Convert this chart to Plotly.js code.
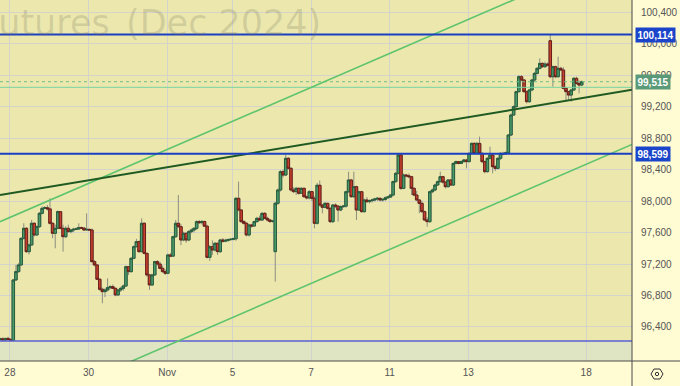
<!DOCTYPE html>
<html><head><meta charset="utf-8">
<script src="https://cdn.plot.ly/plotly-3.0.1.min.js"></script>
<style>html,body{margin:0;padding:0;background:#fffbd3;}#chart{width:680px;height:386px;}</style>
</head><body><div id="chart"></div>
<script>
// candle index of first bar (bars before the Oct 28 session)
const firstIndex = -5;
const openP = [96240,96250,96235,96255,96240,
96230,96997,97103,97188,97526,97653,97357,97442,97717,97569,97674,97844,97907,97915,97900,97717,97590,97653,97865,97653,
97547,97653,97611,97632,97641,97645,97662,97655,97632,97640,97632,97230,97188,97006,96879,96849,96870,96900,96912,96891,
96807,96870,96891,96921,97166,97103,97272,97420,97484,97357,97717,97335,97061,96934,97061,97230,97200,97145,97103,97082,
97315,97300,97547,97717,97674,97505,97590,97505,97611,97632,97653,97738,97725,97740,97680,97285,97420,97378,97463,97357,
97505,97490,97500,97510,97514,97520,98034,97886,97738,97717,97569,97696,97683,97738,97780,97759,97843,97780,97759,97740,
97357,97971,98140,98373,98330,98542,98415,98140,98119,98161,98098,98161,98055,98040,98119,98034,97717,98200,97949,97920,
97970,97907,97738,97949,97935,97886,97928,97935,98118,98267,98055,98182,97886,98118,97865,98013,97992,98005,98013,98025,
98034,98013,98020,98040,98050,98076,98246,98351,98584,98161,98330,98320,98309,98161,98076,98013,97970,97865,97759,97738,
98118,98140,98203,98246,98309,98240,98182,98267,98203,98478,98500,98478,98500,98521,98500,98605,98732,98605,98732,98605,
98500,98373,98542,98584,98436,98415,98542,98605,98600,98612,98838,99092,99198,99389,99579,99537,99389,99262,99410,99537,
99621,99685,99748,99706,99740,100036,99579,99706,99579,99685,99664,99431,99389,99346,99410,99558,99494,99473];
const highP = [96265,96270,96260,96275,96260,
97010,97188,97210,97540,97717,97670,97460,97760,97730,97690,97860,97930,97935,97950,98034,97730,97700,97880,97870,97700,
97680,97700,97645,97660,97665,97717,97675,97670,97844,97650,97650,97250,97200,97020,96900,96890,97018,96930,96940,96900,
96880,96910,96940,97180,97170,97290,97435,97520,97500,97780,97730,97345,97075,97075,97240,97250,97230,97180,97130,97330,
97340,97560,97759,98076,97710,97610,97600,97630,97650,97670,97755,97760,97760,97750,97700,97440,97500,97480,97470,97520,
97530,97520,97525,97530,97535,98050,98246,97900,97760,97730,97710,97710,97750,97800,97815,97860,97860,97800,97770,97760,
97990,98160,98390,98400,98585,98560,98430,98175,98180,98175,98175,98170,98070,98140,98130,98060,98230,98260,97960,97990,
97980,97920,97960,97970,97945,97945,97950,98130,98373,98280,98373,98195,98130,98130,98030,98050,98020,98030,98040,98050,
98045,98035,98060,98065,98090,98260,98370,98610,98600,98350,98345,98350,98320,98175,98130,98025,98005,97880,97795,98130,
98160,98220,98260,98373,98320,98250,98280,98280,98490,98515,98510,98515,98535,98530,98620,98745,98745,98750,98817,98620,
98515,98560,98690,98600,98460,98560,98620,98625,98630,98850,99110,99215,99400,99600,99600,99550,99400,99425,99550,99640,
99700,99812,99760,99770,99760,100114,99720,99720,99833,99705,99700,99445,99400,99425,99575,99579,99530,99530];
const lowP = [96225,96230,96222,96235,96225,
96222,96990,97090,97180,97510,97340,97320,97430,97550,97560,97660,97830,97895,97880,97700,97526,97400,97640,97640,97357,
97530,97600,97590,97605,97630,97635,97645,97620,97625,97620,97220,97170,96995,96860,96701,96780,96850,96880,96880,96790,
96795,96845,96860,96910,97060,97090,97260,97410,97340,97350,97320,97040,96870,96920,97050,97180,97130,97090,97060,97070,
97290,97290,97530,97660,97440,97490,97470,97490,97590,97600,97630,97710,97700,97670,97270,97240,97315,97360,97315,97340,
97470,97475,97480,97495,97500,97495,97870,97720,97700,97550,97550,97660,97670,97725,97745,97745,97770,97740,97720,97725,
96976,97950,98120,98300,98320,98400,98120,98100,98076,98080,98090,98040,98020,98020,98000,97653,97700,97930,97844,97910,
97890,97720,97720,97910,97738,97870,97915,97915,98100,98040,98040,97759,97880,97850,97850,97975,97970,97980,97995,98000,
97995,97990,98000,98030,98040,98060,98230,98340,98140,98150,98300,98290,98076,98060,98000,97844,97850,97745,97674,97720,
98100,98125,98190,98235,98220,98160,98170,98190,98190,98465,98465,98470,98490,98415,98490,98590,98590,98590,98590,98480,
98351,98360,98530,98351,98380,98400,98520,98580,98590,98595,98825,99080,99185,99375,99520,99375,99240,99245,99395,99520,
99610,99670,99690,99690,99710,99560,99452,99560,99565,99650,99415,99262,99283,99262,99395,99480,99367,99460];
const closeP = [96250,96235,96255,96240,96230,
96997,97103,97188,97526,97653,97357,97442,97717,97569,97674,97844,97907,97915,97900,97717,97590,97653,97865,97653,97547,
97653,97611,97632,97641,97645,97662,97655,97632,97640,97632,97230,97188,97006,96879,96849,96870,96900,96912,96891,96807,
96870,96891,96921,97166,97103,97272,97420,97484,97357,97717,97335,97061,96934,97061,97230,97200,97145,97103,97082,97315,
97300,97547,97717,97674,97505,97590,97505,97611,97632,97653,97738,97725,97740,97680,97285,97420,97378,97463,97357,97505,
97490,97500,97510,97514,97520,98034,97886,97738,97717,97569,97696,97683,97738,97780,97759,97843,97780,97759,97740,97745,
97971,98140,98373,98330,98542,98415,98140,98119,98161,98098,98161,98055,98040,98119,98034,97717,98200,97949,97920,97970,
97907,97738,97949,97935,97886,97928,97935,98118,98267,98055,98182,97886,98118,97865,98013,97992,98005,98013,98025,98034,
98013,98020,98040,98050,98076,98246,98351,98584,98161,98330,98320,98309,98161,98076,98013,97970,97865,97759,97738,98118,
98140,98203,98246,98309,98240,98182,98267,98203,98478,98500,98478,98500,98521,98500,98605,98732,98605,98732,98605,98500,
98373,98542,98584,98436,98415,98542,98605,98600,98612,98838,99092,99198,99389,99579,99537,99389,99262,99410,99537,99621,
99685,99748,99706,99740,99727,99579,99706,99579,99685,99664,99431,99389,99346,99410,99558,99494,99473,99515];

const dayLabels = ['28','30','Nov','5','7','11','13','18'];
const dayStartIndex = [0,30,60,85,115,145,175,220];
const yTickValues = [96400,96800,97200,97600,98000,98400,98800,99200,99600,100000,100400];

const levelHigh = 100114, levelMid = 98599, levelLow = 96222;
const lastPrice = 99515, mintLevel = 99444;
const trendDarkIdx = [-5.08, 236.2], trendDarkPrice = [98076, 99412];
const channelUpIdx = [-5.08, 236.2], channelUpPrice = [97737, 101204];
const channelLowIdx = [-5.08, 236.2], channelLowPrice = [95242, 98718];

const xIdx = openP.map((_, i) => firstIndex + i);
const bodyHigh = openP.map((o, i) => Math.max(o, closeP[i]));
const bodyLow = openP.map((o, i) => Math.min(o, closeP[i]));

const PW = 632, PH = 361;
const px = v => v / PW, py = v => 1 - v / PH;

const wick = {
  type: 'candlestick', x: xIdx, open: openP, high: highP, low: lowP, close: closeP,
  increasing: {line: {color: '#8c8c80', width: 1}, fillcolor: '#8c8c80'},
  decreasing: {line: {color: '#8c8c80', width: 1}, fillcolor: '#8c8c80'},
  whiskerwidth: 0, hoverinfo: 'none', showlegend: false
};
const body = {
  type: 'candlestick', x: xIdx, open: openP, high: bodyHigh, low: bodyLow, close: closeP,
  increasing: {line: {color: '#275e3c', width: 1}, fillcolor: '#4b9a6b'},
  decreasing: {line: {color: '#6a2118', width: 1}, fillcolor: '#c8402f'},
  whiskerwidth: 0, hoverinfo: 'none', showlegend: false
};

function hline(y, color, width, dash) {
  return {type: 'line', xref: 'paper', x0: 0, x1: 1, yref: 'y', y0: y, y1: y,
          line: {color: color, width: width, dash: dash || 'solid'}, layer: 'above'};
}
function seg(xs, ys, color, width) {
  return {type: 'line', xref: 'x', yref: 'y', x0: xs[0], x1: xs[1], y0: ys[0], y1: ys[1],
          line: {color: color, width: width}, layer: 'above'};
}

const shapes = [
  {type: 'rect', xref: 'paper', x0: 0, x1: 1, yref: 'y', y0: 95900, y1: levelLow,
   fillcolor: '#dfe5c2', line: {width: 0}, layer: 'below'},
  hline(levelLow, '#5a5fd6', 1.5),
  hline(mintLevel, '#78d4a0', 1),
  hline(lastPrice, '#6cbf8a', 1, 'dot'),
  seg(channelUpIdx, channelUpPrice, '#5fc46e', 1.6),
  seg(channelLowIdx, channelLowPrice, '#5fc46e', 1.6),
  seg(trendDarkIdx, trendDarkPrice, '#1f5a22', 2),
  hline(levelHigh, '#1b3fc2', 2),
  hline(levelMid, '#1b3fc2', 2),
  {type: 'line', xref: 'paper', yref: 'paper', x0: 1, x1: 1, y0: py(386), y1: 1,
   line: {color: '#4a4a4a', width: 1}},
  {type: 'line', xref: 'paper', yref: 'paper', x0: 0, x1: px(680), y0: 0, y1: 0,
   line: {color: '#4a4a4a', width: 1}},
  {type: 'path', xref: 'paper', yref: 'paper',
   path: 'M' + px(651) + ',' + py(374) + ' L' + px(654) + ',' + py(369) + ' L' + px(660) + ',' + py(369) +
         ' L' + px(663) + ',' + py(374) + ' L' + px(660) + ',' + py(379) + ' L' + px(654) + ',' + py(379) + ' Z',
   line: {color: '#333', width: 1}},
  {type: 'circle', xref: 'paper', yref: 'paper', x0: px(655.3), x1: px(658.7), y0: py(375.7), y1: py(372.3),
   line: {color: '#333', width: 1}}
];

function priceLabel(y, text, bg) {
  return {xref: 'paper', yref: 'y', x: px(635), y: y, xanchor: 'left', yanchor: 'middle',
          text: '<b>' + text + '</b>', showarrow: false, bgcolor: bg, borderpad: 1.5,
          font: {family: 'Liberation Sans, Arial, sans-serif', size: 10, color: '#ffffff'}};
}

const wmFont = {family: 'DejaVu Sans', size: 35, color: 'rgba(110,110,95,0.22)'};
const annotations = [
  {xref: 'paper', yref: 'paper', x: px(112), y: py(23), xanchor: 'right', yanchor: 'middle',
   text: 'Futures', showarrow: false, font: wmFont},
  {xref: 'paper', yref: 'paper', x: px(323), y: py(23), xanchor: 'right', yanchor: 'middle',
   text: '(Dec 2024)', showarrow: false, font: wmFont},
  priceLabel(levelHigh, '100,114', '#1a44c9'),
  priceLabel(lastPrice, '99,515', '#5a9a78'),
  priceLabel(levelMid, '98,599', '#1a44c9')
];

const layout = {
  width: 680, height: 386,
  margin: {l: 0, r: 48, t: 0, b: 25, pad: 0},
  paper_bgcolor: '#fffbd3', plot_bgcolor: '#ece8ad',
  showlegend: false, hovermode: false,
  boxgap: 0.05, boxgroupgap: 0,
  font: {family: 'Liberation Sans, Arial, sans-serif', size: 10, color: '#555'},
  xaxis: {
    type: 'linear', range: [-5.08, 236.2], rangeslider: {visible: false},
    tickmode: 'array', tickvals: dayStartIndex.map(d => d - 1.3), ticktext: dayLabels,
    showgrid: true, gridcolor: 'rgba(208,208,208,0.85)', gridwidth: 1,
    zeroline: false, showline: false, ticks: '', ticklabelstandoff: 4,
    tickfont: {size: 10, color: '#555'}, fixedrange: true
  },
  yaxis: {
    side: 'right', range: [95968, 100553],
    tickmode: 'array', tickvals: yTickValues, tickformat: ',d',
    showgrid: true, gridcolor: 'rgba(208,208,208,0.85)', gridwidth: 1,
    zeroline: false, showline: false, ticks: '', ticklabelstandoff: 8,
    tickfont: {size: 10, color: '#555'}, fixedrange: true
  },
  shapes: shapes,
  annotations: annotations
};

Plotly.newPlot('chart', [wick, body], layout, {displayModeBar: false, staticPlot: true});
</script>
</body></html>
